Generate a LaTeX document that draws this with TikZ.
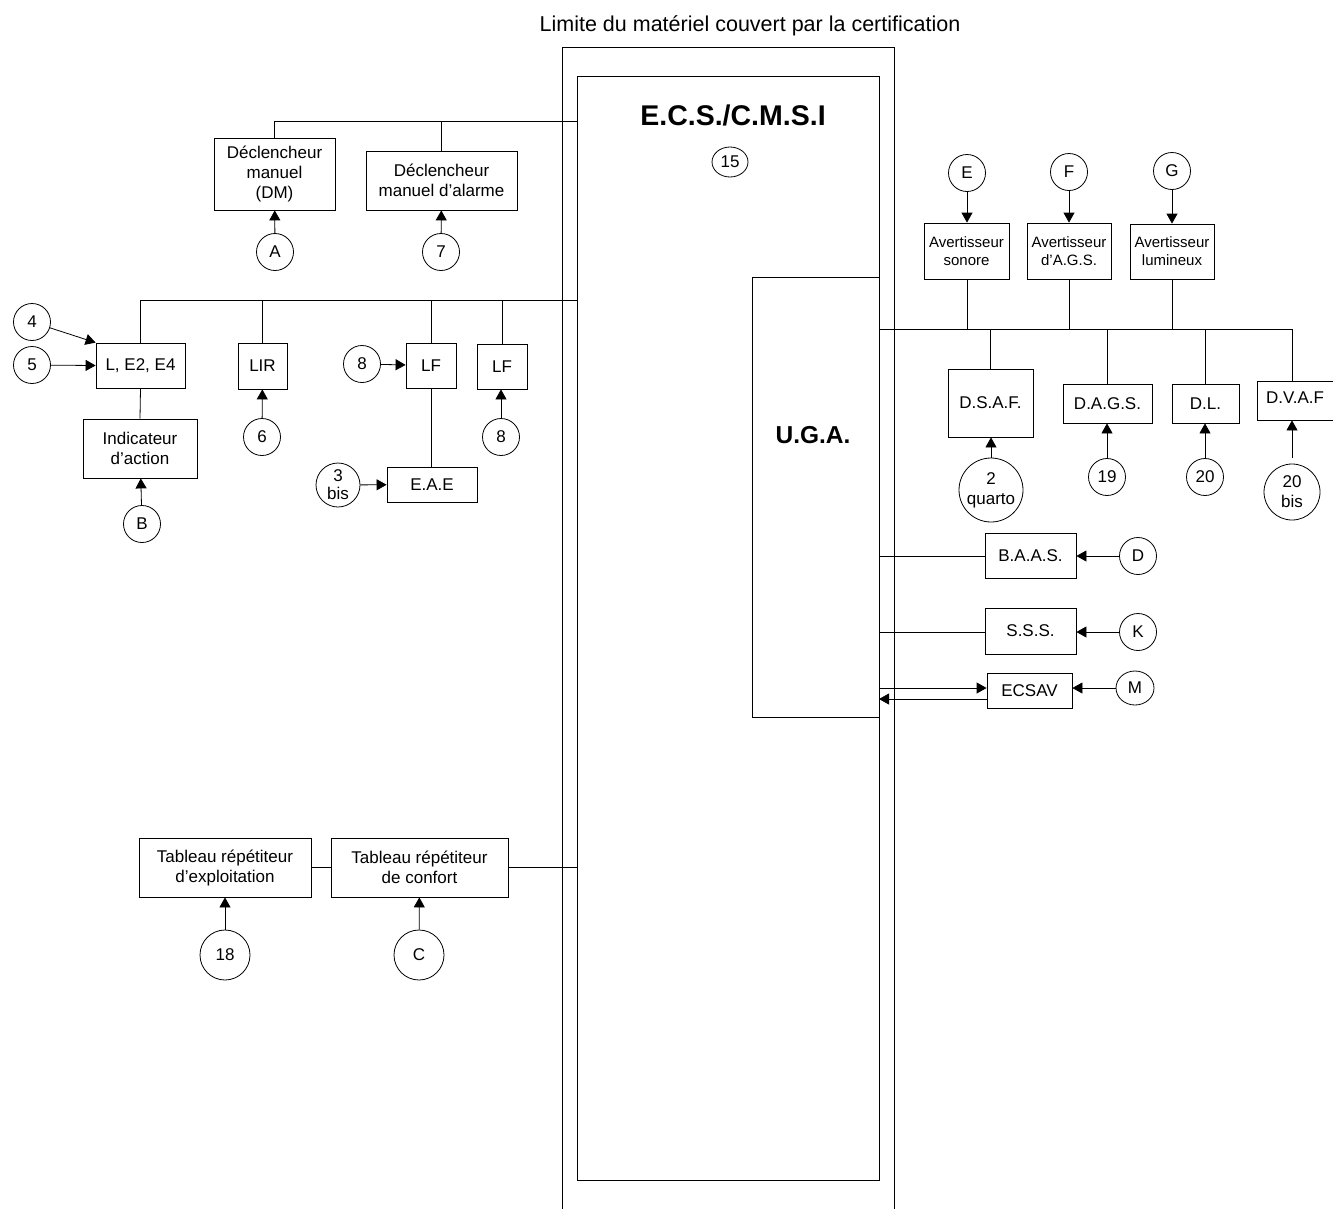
\documentclass[tikz,border=0pt]{standalone}
\usepackage{fontspec}
\setmainfont{Liberation Sans}
\usetikzlibrary{arrows.meta,shapes.geometric}
\newcommand\fsmain{\fontsize{17}{20}\selectfont}
\newcommand\fssmall{\fontsize{15}{18}\selectfont}
\newcommand\fstitle{\fontsize{21.5}{24}\selectfont}
\begin{document}
\begin{tikzpicture}[x=1pt,y=-1pt,
  line width=0.8pt,
  box/.style={draw, align=center, inner sep=0pt, font=\fsmain},
  sbox/.style={draw, align=center, inner sep=0pt, font=\fssmall},
  circ/.style={draw, circle, inner sep=0pt, minimum size=37, align=center, font=\fsmain},
  ell/.style={draw, ellipse, inner sep=0pt, align=center, font=\fsmain},
  arr/.style={-{Triangle[length=10pt,width=11pt]}}
]
\useasboundingbox (0,0) rectangle (1333,1208);

% title and frames
\node[font=\fstitle] (title) at (750,26) {Limite du matériel couvert par la certification};
\coordinate (olb) at (562,1210);
\coordinate (olt) at (562,47);
\coordinate (ort) at (894,47);
\coordinate (orb) at (894,1210);
\draw (olb) -- (olt) -- (ort) -- (orb);
\node[draw, minimum width=302, minimum height=1104, inner sep=0pt] (ecs) at (728,628) {};
\node[font=\fontsize{28.5}{32}\selectfont\bfseries] (ecst) at (733,115) {E.C.S./C.M.S.I};
\node[ell, minimum width=36, minimum height=30] (c15) at (730,162) {15};

% top group
\node[box, minimum width=121, minimum height=72] (dm) at (274.5,174) {Déclencheur\\manuel\\(DM)};
\node[box, minimum width=151, minimum height=59] (dma) at (441.5,180.5) {Déclencheur\\manuel d’alarme};
\node[circ] (cA) at (275,252) {A};
\node[circ] (c7) at (441,252) {7};
\coordinate (bus1) at (577,121);
\draw (dm.north) |- (bus1);
\draw (dma.north) -- (dma.north |- bus1);
\draw[arr] (cA) -- (dm);
\draw[arr] (c7) -- (dma);

% second group
\coordinate (bus2) at (577,300);
\node[box, minimum width=89, minimum height=45] (le) at (140.5,365.5) {L, E2, E4};
\node[box, minimum width=49, minimum height=46] (lir) at (262.5,366) {LIR};
\node[box, minimum width=50, minimum height=45] (lf1) at (431,365.5) {LF};
\node[box, minimum width=50, minimum height=45] (lf2) at (502,366.5) {LF};
\node[box, minimum width=114, minimum height=59] (ind) at (140,448.5) {Indicateur\\d’action};
\node[box, minimum width=90, minimum height=35] (eae) at (432,484.5) {E.A.E};
\node[circ] (c4) at (32,322) {4};
\node[circ] (c5) at (32,365) {5};
\node[circ] (c6) at (262,437) {6};
\node[circ] (cB) at (142,524) {B};
\node[circ] (c8a) at (362,364) {8};
\node[circ] (c8b) at (501,437) {8};
\node[circ, minimum size=44, font=\fontsize{17}{18}\selectfont] (c3) at (338,485) {3\\bis};
\draw (le.north) |- (bus2);
\draw (lir.north) -- (lir.north |- bus2);
\draw (lf1.north) -- (lf1.north |- bus2);
\draw (lf2.north) -- (lf2.north |- bus2);
\draw (le.south) -- (ind.north);
\draw (lf1.south) -- (lf1.south |- eae.north);
\draw[arr] (c4) -- (le.north west);
\draw[arr] (c5) -- (le.west);
\draw[arr] (c6) -- (lir);
\draw[arr] (cB) -- (ind);
\draw[arr] (c8a) -- (lf1);
\draw[arr] (c8b) -- (lf2.south -| c8b);
\draw[arr] (c3) -- (eae);

% U.G.A.
\node[draw, minimum width=127, minimum height=440, inner sep=0pt] (uga) at (815.5,497) {};
\node[font=\fontsize{24.5}{28}\selectfont\bfseries] (ugat) at (813,435) {U.G.A.};

% avertisseurs
\node[sbox, minimum width=85, minimum height=56] (avs) at (966.5,251) {Avertisseur\\sonore};
\node[sbox, minimum width=84, minimum height=56] (avg) at (1069,251) {Avertisseur\\d’A.G.S.};
\node[sbox, minimum width=84, minimum height=55] (avl) at (1172,251.5) {Avertisseur\\lumineux};
\node[circ] (cE) at (967,173) {E};
\node[circ] (cF) at (1069,172) {F};
\node[circ] (cG) at (1172,171) {G};
\draw[arr] (cE) -- (avs.north -| cE);
\draw[arr] (cF) -- (avg);
\draw[arr] (cG) -- (avl);
\coordinate (bus3l) at (879,329);
\coordinate (bus3r) at (1292,329);
\draw (bus3l) -- (bus3r);
\draw (avs.south -| cE) -- (bus3l -| cE);
\draw (avg.south) -- (avg.south |- bus3l);
\draw (avl.south) -- (avl.south |- bus3l);

% diffuseurs
\node[box, minimum width=85, minimum height=68] (dsaf) at (990.5,403) {D.S.A.F.};
\node[box, minimum width=89, minimum height=39] (dags) at (1107.5,403.5) {D.A.G.S.};
\node[box, minimum width=67, minimum height=39] (dl) at (1205.5,403.5) {D.L.};
\node[box, minimum width=76, minimum height=39, text depth=6pt] (dvaf) at (1295,400.5) {D.V.A.F};
\draw (dsaf.north) -- (dsaf.north |- bus3l);
\draw (dags.north) -- (dags.north |- bus3l);
\draw (dl.north) -- (dl.north |- bus3l);
\draw (bus3r) -- (bus3r |- dvaf.north);
\node[circ, minimum size=64] (c2q) at (991,490) {2\\quarto};
\node[circ] (c19) at (1107,477) {19};
\node[circ] (c20) at (1205,477) {20};
\node[circ, minimum size=56] (c20b) at (1292,492) {20\\bis};
\draw[arr] (c2q) -- (dsaf.south -| c2q);
\draw[arr] (c19) -- (dags.south -| c19);
\draw[arr] (c20) -- (dl.south -| c20);
\draw[arr, shorten <=6pt] (c20b.north) -- (dvaf.south -| c20b);

% B.A.A.S., S.S.S., ECSAV
\node[box, minimum width=91, minimum height=45] (baas) at (1030.5,555.5) {B.A.A.S.};
\node[box, minimum width=91, minimum height=46] (sss) at (1030.5,631) {S.S.S.};
\node[box, minimum width=85, minimum height=35] (ecsav) at (1029.5,690.5) {ECSAV};
\node[circ] (cD) at (1138,556) {D};
\node[circ] (cK) at (1138,632) {K};
\node[ell, minimum width=38, minimum height=34] (cM) at (1135,688) {M};
\coordinate (ub) at (879,556);
\coordinate (us) at (879,632);
\coordinate (ue1) at (879,688);
\coordinate (ue2) at (879,699);
\draw (ub) -- (baas.west |- ub);
\draw (us) -- (sss.west |- us);
\draw[arr] (ue1) -- (ecsav.west |- ue1);
\draw[arr] (ecsav.west |- ue2) -- (ue2);
\draw[arr] (cD) -- (baas.east |- cD);
\draw[arr] (cK) -- (sss.east |- cK);
\draw[arr] (cM) -- (ecsav.east |- cM);

% tableaux
\node[box, minimum width=172, minimum height=59] (tre) at (225,867.5) {Tableau répétiteur\\d’exploitation};
\node[box, minimum width=177, minimum height=59] (trc) at (419.5,867.5) {Tableau répétiteur\\de confort};
\node[circ, minimum size=50] (c18) at (225,955) {18};
\node[circ, minimum size=50] (cC) at (419,955) {C};
\coordinate (ut) at (577,867.5);
\draw (tre.east) -- (trc.west);
\draw (trc.east) -- (ut);
\draw[arr] (c18) -- (tre);
\draw[arr] (cC) -- (trc);
\end{tikzpicture}
\end{document}
